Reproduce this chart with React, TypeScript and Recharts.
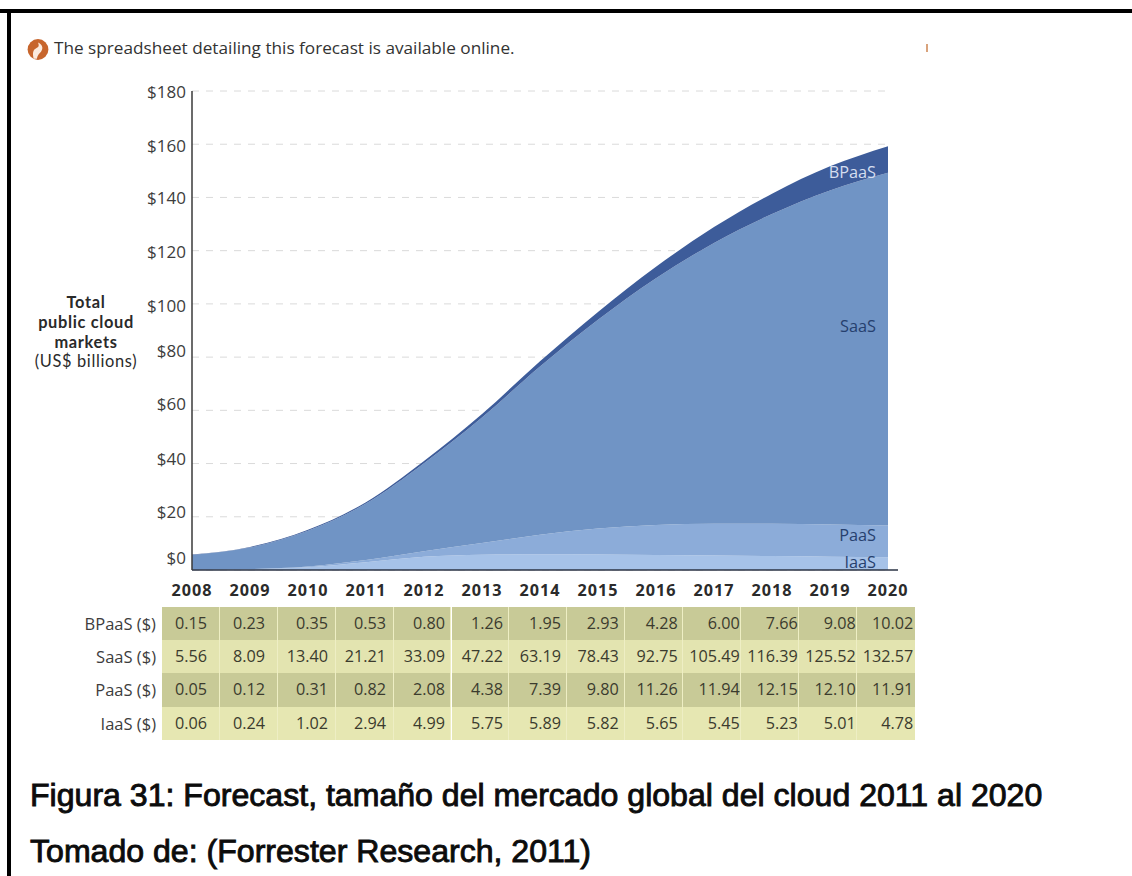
import React from 'react';
import { AreaChart, Area, XAxis, YAxis, CartesianGrid, ReferenceDot } from 'recharts';

// Market size by year, US$ billions
const years = [2008, 2009, 2010, 2011, 2012, 2013, 2014, 2015, 2016, 2017, 2018, 2019, 2020];
const bpaas = [0.15, 0.23, 0.35, 0.53, 0.8, 1.26, 1.95, 2.93, 4.28, 6.0, 7.66, 9.08, 10.02];
const saas = [5.56, 8.09, 13.4, 21.21, 33.09, 47.22, 63.19, 78.43, 92.75, 105.49, 116.39, 125.52, 132.57];
const paas = [0.05, 0.12, 0.31, 0.82, 2.08, 4.38, 7.39, 9.8, 11.26, 11.94, 12.15, 12.1, 11.91];
const iaas = [0.06, 0.24, 1.02, 2.94, 4.99, 5.75, 5.89, 5.82, 5.65, 5.45, 5.23, 5.01, 4.78];
const yTicks = [0, 20, 40, 60, 80, 100, 120, 140, 160, 180];

const chartData = years.map((year, i) => ({
  year,
  BPaaS: bpaas[i],
  SaaS: saas[i],
  PaaS: paas[i],
  IaaS: iaas[i],
}));

const tableRows = [
  { name: 'BPaaS ($)', values: bpaas, bg: '#c8ca97' },
  { name: 'SaaS ($)', values: saas, bg: '#e3e4b0' },
  { name: 'PaaS ($)', values: paas, bg: '#c8ca97' },
  { name: 'IaaS ($)', values: iaas, bg: '#e6e7b2' },
];

const bandLabels = [
  { text: 'BPaaS', at: 149.5, color: '#d5def0' },
  { text: 'SaaS', at: 91.7, color: '#26406e' },
  { text: 'PaaS', at: 13.2, color: '#26406e' },
  { text: 'IaaS', at: 3, color: '#26406e' },
];

// Right-hand gap of each table column, in px
const columnInsets = [13, 13, 8, 8, 7, 7, 7, 7, 6, 2, 2, 2, 2];
// Vertical nudge of the value-axis labels, in px
const yTickNudge: Record<number, number> = {
  0: -11, 20: -4, 40: -4, 60: -5, 80: -5, 100: 3, 120: 2, 140: 2, 160: 3, 180: 2,
};

const FONT = '"Open Sans", "Noto Sans", sans-serif';
const TITLE_FONT = 'Lato, "Open Sans", sans-serif';
const CAPTION_FONT = '"Liberation Sans", Arial, sans-serif';
const COL_W = 57.96;
const ROW_H = 33.2;

const YTick = ({ x, y, payload }: any) => (
  <text
    x={x + 2}
    y={y + yTickNudge[payload.value] + 5}
    textAnchor="end"
    fontFamily={FONT}
    fontSize={17}
    fill="#3d3d3d"
  >
    {'$' + payload.value}
  </text>
);

const XTick = ({ x, y, payload }: any) => (
  <text
    x={x}
    y={y + 18}
    textAnchor="middle"
    fontFamily={FONT}
    fontSize={16.2}
    fontWeight={700}
    letterSpacing={1}
    fill="#2b2b2b"
  >
    {payload.value}
  </text>
);

const abs = (left: number, top: number, extra: React.CSSProperties = {}): React.CSSProperties => ({
  position: 'absolute',
  left,
  top,
  whiteSpace: 'nowrap',
  ...extra,
});

const captionStyle: React.CSSProperties = {
  fontFamily: CAPTION_FONT,
  fontSize: 32.1,
  lineHeight: '50px',
  color: '#0c0c0c',
  WebkitTextStroke: '0.9px #0c0c0c',
};

export default function App() {
  return (
    <div style={{ position: 'absolute', left: 0, top: 0, width: 1132, height: 876, overflow: 'hidden', background: '#fff' }}>
      {/* Page frame: top and left rules only */}
      <div style={abs(0, 9, { width: 1132, height: 3.5, background: '#000' })} />
      <div style={abs(7, 9, { width: 4, height: 867, background: '#000' })} />

      {/* Note line with its icon */}
      <svg style={abs(27, 38)} width={22} height={23} viewBox="0 0 20 21">
        <circle cx={10} cy={10.5} r={9.5} fill="#c7652c" />
        <path d="M6 19 C5 14 5 11 9 9 C11 8 11 6 10 4 C14 6 15 9 13 12 C12 14 10 14 9 19 Z" fill="#fbeadd" />
      </svg>
      <div style={abs(54, 36, { fontFamily: FONT, fontSize: 17.2, lineHeight: '24px', color: '#333' })}>
        The spreadsheet detailing this forecast is available online.
      </div>
      <div style={abs(926, 44, { width: 1.5, height: 8, background: '#d9a37c' })} />

      {/* Value-axis title */}
      <div style={abs(22, 292, { width: 128, textAlign: 'center', fontFamily: TITLE_FONT, fontSize: 16.4, lineHeight: '19.8px', letterSpacing: 0.65, color: '#2a2a2a' })}>
        <div style={{ fontWeight: 700 }}>Total</div>
        <div style={{ fontWeight: 700 }}>public cloud</div>
        <div style={{ fontWeight: 700 }}>markets</div>
        <div>(US$ billions)</div>
      </div>

      <div style={abs(0, 0)}>
        <AreaChart
          width={1132}
          height={876}
          data={chartData}
          margin={{ top: 91, right: 234, bottom: 0, left: 0 }}
        >
          <CartesianGrid
            vertical={false}
            width={696}
            stroke="#dadada"
            strokeWidth={1}
            strokeDasharray="7 7"
          />
          <XAxis
            dataKey="year"
            type="number"
            domain={[2008, 2020 + 10 / 58]}
            ticks={years}
            interval={0}
            height={306}
            allowDataOverflow
            tickLine={false}
            axisLine={{ stroke: '#2b3345', strokeWidth: 1.5 }}
            tick={XTick}
          />
          <YAxis
            type="number"
            domain={[0, 180]}
            ticks={yTicks}
            interval={0}
            width={192}
            tickLine={false}
            axisLine={{ stroke: '#3a3a3a', strokeWidth: 1.5 }}
            tick={YTick}
          />
          <Area dataKey="IaaS" stackId="total" type="monotone" stroke="none" fill="#a6c2e8" fillOpacity={1} isAnimationActive={false} />
          <Area dataKey="PaaS" stackId="total" type="monotone" stroke="none" fill="#8cacd9" fillOpacity={1} isAnimationActive={false} />
          <Area dataKey="SaaS" stackId="total" type="monotone" stroke="none" fill="#7094c5" fillOpacity={1} isAnimationActive={false} />
          <Area dataKey="BPaaS" stackId="total" type="monotone" stroke="none" fill="#3d5c9a" fillOpacity={1} isAnimationActive={false} />
          {bandLabels.map((b) => (
            <ReferenceDot
              key={b.text}
              x={2020}
              y={b.at}
              r={0}
              ifOverflow="visible"
              label={{
                value: b.text,
                position: 'left',
                offset: 12,
                fontFamily: FONT,
                fontSize: 16.3,
                fill: b.color,
              }}
            />
          ))}
        </AreaChart>
      </div>

      {/* Data table under the plot */}
      {tableRows.map((row, r) => (
        <React.Fragment key={row.name}>
          <div
            style={abs(40, 607 + r * ROW_H, {
              width: 116,
              height: ROW_H,
              lineHeight: ROW_H + 'px',
              textAlign: 'right',
              fontFamily: FONT,
              fontSize: 16.5,
              color: '#3d3d3d',
            })}
          >
            {row.name}
          </div>
          {row.values.map((v, c) => (
            <div
              key={years[c]}
              style={abs(161.7 + c * COL_W, 607 + r * ROW_H, {
                width: COL_W,
                height: ROW_H,
                boxSizing: 'border-box',
                background: row.bg,
                borderRight: c < 12 ? '1.5px solid #eeeec4' : 'none',
                paddingRight: columnInsets[c] - (c < 12 ? 1.5 : 0),
                lineHeight: ROW_H + 'px',
                textAlign: 'right',
                fontFamily: FONT,
                fontSize: 16.2,
                color: '#3b3b2e',
              })}
            >
              {v.toFixed(2)}
            </div>
          ))}
        </React.Fragment>
      ))}

      {/* Caption */}
      <div style={abs(30, 770, captionStyle)}>
        Figura 31: Forecast, tamaño del mercado global del cloud 2011 al 2020
      </div>
      <div style={abs(30, 826, captionStyle)}>
        Tomado de: (Forrester Research, 2011)
      </div>
    </div>
  );
}
